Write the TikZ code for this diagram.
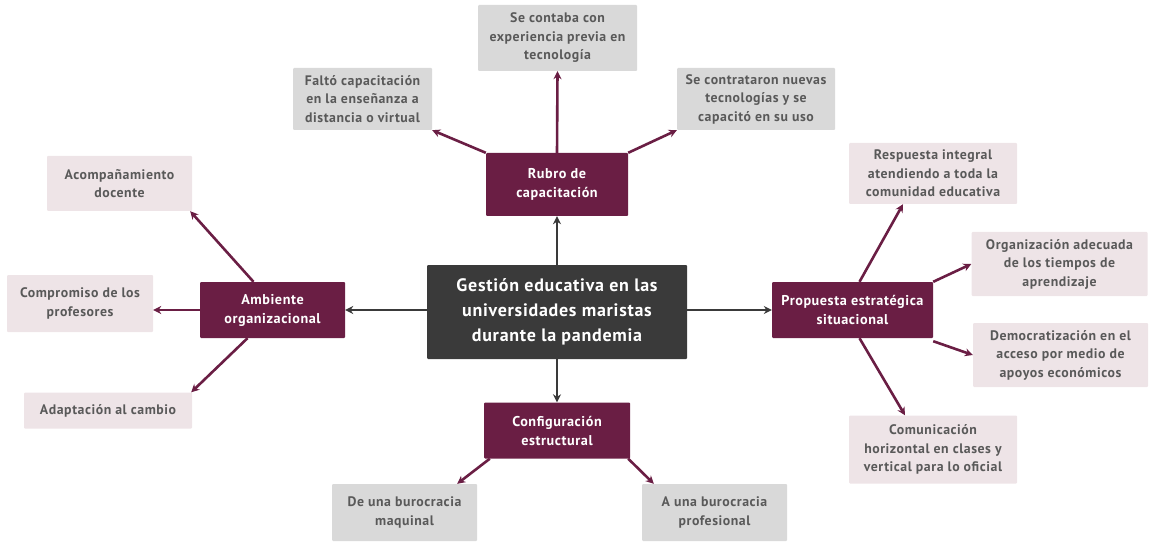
\documentclass[tikz,border=0pt]{standalone}
\usepackage{fontspec}
\setmainfont{PT Sans}[LetterSpace=4]
\usetikzlibrary{arrows.meta}
\definecolor{maroon}{HTML}{6A1E44}
\definecolor{darkc}{HTML}{3A3A3A}
\definecolor{grayb}{HTML}{D9D9D9}
\definecolor{pinkb}{HTML}{EEE4E7}
\definecolor{txtg}{HTML}{595959}
\begin{document}
\begin{tikzpicture}[x=1pt,y=-1pt,
  box/.style={rectangle, inner sep=0pt, align=center, font=\fontsize{13.8}{18.5}\selectfont\bfseries, text=txtg, rounded corners=1pt},
  graybox/.style={box, fill=grayb},
  pinkbox/.style={box, fill=pinkb},
  mainbox/.style={box, fill=maroon, text=white, font=\fontsize{14.2}{19}\selectfont\bfseries},
  centerbox/.style={box, fill=darkc, text=white, font=\fontsize{18}{25}\selectfont\bfseries},
  darrow/.style={draw=darkc, line width=2.6pt, -{Stealth[length=8pt,width=8pt]}},
  marrow/.style={draw=maroon, line width=2.6pt, -{Stealth[length=8pt,width=8pt]}},
  sz/.style 2 args={minimum width=#1pt, minimum height=#2pt}
]
\useasboundingbox (0,0) rectangle (1155,545);
% central
\node[centerbox, sz={260}{94}] (c) at (557,312) {Gestión educativa en las\\universidades maristas\\durante la pandemia};
% main branches
\node[mainbox, sz={142}{63}] (rub) at (557,184.5) {Rubro de\\capacitación};
\node[mainbox, sz={145}{56}] (amb) at (272.5,310) {Ambiente\\organizacional};
\node[mainbox, sz={161}{56}] (pro) at (852.5,310) {Propuesta estratégica\\situacional};
\node[mainbox, sz={146}{56}] (con) at (557,430.5) {Configuración\\estructural};
% top leaves
\node[graybox, sz={159}{66}] (exp) at (557.5,38) {Se contaba con\\experiencia previa en\\tecnología};
\node[graybox, sz={139}{62}] (fal) at (362.5,99) {Faltó capacitación\\en la enseñanza a\\distancia o virtual};
\node[graybox, sz={158}{62}] (ctr) at (756,99) {Se contrataron nuevas\\tecnologías y se\\capacitó en su uso};
% left leaves
\node[pinkbox, sz={145}{55}] (aco) at (119.5,183.5) {Acompañamiento\\docente};
\node[pinkbox, sz={146}{57}] (com) at (80,303.5) {Compromiso de los\\profesores};
\node[pinkbox, sz={168}{36}] (ada) at (108,410.5) {Adaptación al cambio};
% right leaves
\node[pinkbox, sz={168}{61}] (res) at (933,173.5) {Respuesta integral\\atendiendo a toda la\\comunidad educativa};
\node[pinkbox, sz={176}{64}] (org) at (1059.5,264) {Organización adecuada\\de los tiempos de\\aprendizaje};
\node[pinkbox, sz={175}{64}] (dem) at (1060.5,355) {Democratización en el\\acceso por medio de\\apoyos económicos};
\node[pinkbox, sz={168}{68}] (cmh) at (933,449.5) {Comunicación\\horizontal en clases y\\vertical para lo oficial};
% bottom leaves
\node[graybox, sz={145}{57}] (maq) at (404.5,512.5) {De una burocracia\\maquinal};
\node[graybox, sz={145}{57}] (prf) at (714.5,512.5) {A una burocracia\\profesional};
% center arrows
\draw[darrow] (c.north) -- (rub.south);
\draw[darrow] (c.west |- amb.east) -- (amb.east);
\draw[darrow] (c.east |- pro.west) -- (pro.west);
\draw[darrow] (c.south) -- (con.north);
% rubro
\draw[marrow] (rub.north) -- (exp.south);
\draw[marrow] (rub.north west) -- (fal.south east);
\draw[marrow] (rub.north east) -- (ctr.south west);
% ambiente
\draw[marrow] ([xshift=-19pt]amb.north) -- ([xshift=-2pt]aco.south east);
\draw[marrow] (amb.west) -- (amb.west -| com.east);
\draw[marrow] ([xshift=-25pt]amb.south) -- ([xshift=-1pt]ada.north east);
% propuesta
\draw[marrow] ([xshift=7pt]pro.north) -- ([xshift=-30pt]res.south);
\draw[marrow] (pro.north east) -- (org.west);
\draw[marrow] ([yshift=-3pt]pro.south east) -- (dem.west);
\draw[marrow] ([xshift=7pt]pro.south) -- ([xshift=-28pt]cmh.north);
% configuracion
\draw[marrow] ([xshift=6pt]con.south west) -- ([xshift=-20pt]maq.north east);
\draw[marrow] ([xshift=-2pt]con.south east) -- ([xshift=12pt]prf.north west);
\end{tikzpicture}
\end{document}
